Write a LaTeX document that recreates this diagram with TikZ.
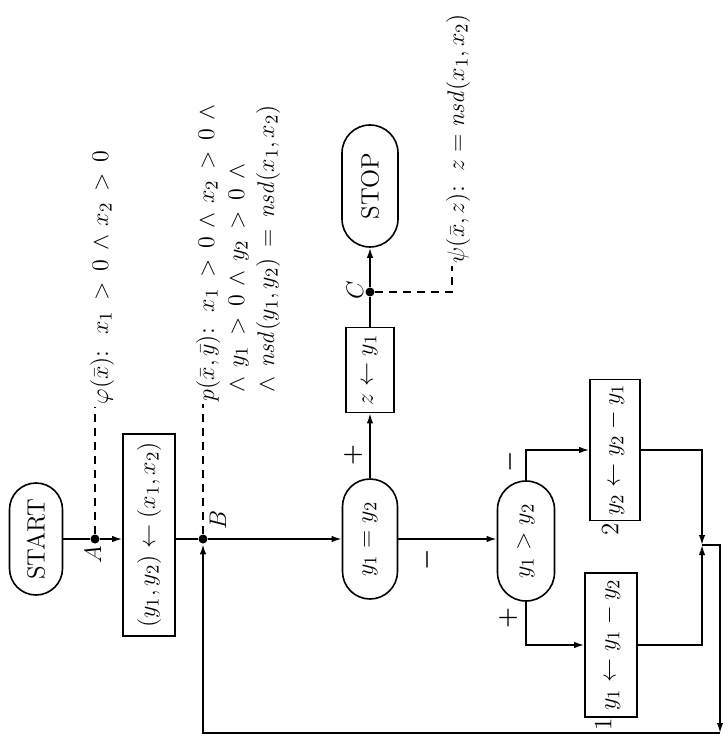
\documentclass[tikz,border=0pt]{standalone}
\usepackage{amsmath,amssymb}
\usepackage{tikz}
\usetikzlibrary{arrows.meta,shapes.misc}

\begin{document}
\begin{tikzpicture}[x=0.5pt, y=-0.5pt, line width=0.8pt,
  every node/.style={font=\fontsize{12.5}{15}\selectfont},
  term/.style={draw, rounded rectangle, rotate=90, inner sep=0pt},
  box/.style={draw, rectangle, rotate=90, inner sep=0pt},
  dot/.style={circle, fill, inner sep=0pt, minimum size=4.5pt},
  arr/.style={-{Latex[length=5pt,width=3.2pt]}},
  note/.style={line width=0.7pt, dash pattern=on 4pt off 3pt},
  lab/.style={rotate=90, inner sep=0pt},
  cond/.style={lab, anchor=base west},
  wide/.style={cond, execute at begin node={\thickmuskip=8mu plus 5mu\medmuskip=6.5mu plus 2mu minus 4mu}}]
\useasboundingbox (0,0) rectangle (723,742);
\node[term, minimum width=56pt, minimum height=26.5pt] (start) at (36,539) {START};
\node[box, minimum width=101pt, minimum height=26pt] (init) at (149,535) {$(y_1, y_2) \leftarrow (x_1, x_2)$};
\node[term, minimum width=60pt, minimum height=27.5pt] (eq) at (370,539) {$y_1 = y_2$};
\node[box, minimum width=42.5pt, minimum height=24pt] (zbox) at (370,370) {$z \leftarrow y_1$};
\node[term, minimum width=61pt, minimum height=28pt] (stop) at (370,186) {STOP};
\node[term, minimum width=60pt, minimum height=28.5pt] (gt) at (526,541) {$y_1 > y_2$};
\node[box, minimum width=70.5pt, minimum height=25pt] (sub2) at (615,450) {$y_2 \leftarrow y_2 - y_1$};
\node[box, minimum width=72pt, minimum height=26pt] (sub1) at (611,645) {$y_1 \leftarrow y_1 - y_2$};
\node[dot] (A) at (95,539) {};
\node[dot] (B) at (203,539) {};
\node[dot] (C) at (370,292) {};
\node[lab] (labA) at (93,555) {$A$};
\node[lab] (labB) at (218,520) {$B$};
\node[lab] (labC) at (355,290) {$C$};
\draw (start.south) -- (A);
\draw[arr] (A) -- (A -| init.north);
\draw (init.south |- B) -- (B);
\draw[arr] (B) -- (B -| eq.north);
\draw[arr] (eq.east) -- (zbox.west);
\draw (zbox.east) -- (C);
\draw[arr] (C) -- (stop.west);
\draw[arr] (eq.south) -- (eq.south -| gt.north);
\draw[arr] (gt.east) -- (gt.east |- sub2.north) -- (sub2.north);
\draw[arr] (gt.west) -- (gt.west |- sub1.north) -- (sub1.north);
\coordinate (merge) at (702,545);
\coordinate (rtop) at (720,545);
\coordinate (rbot) at (720,733);
\draw[arr] (sub2.south) -| (merge);
\draw[arr] (sub1.south) -| (merge);
\draw[arr] (merge) -- (rtop) -- (rbot);
\draw[arr] (rbot) -- (B |- rbot) -- (B);
\node[lab] (plus1) at (353,455) {$\boldsymbol{+}$};
\node[lab] (minus1) at (427,560) {$\boldsymbol{-}$};
\node[lab] (minus2) at (510,462) {$\boldsymbol{-}$};
\node[lab] (plus2) at (508,618) {$\boldsymbol{+}$};
\node[lab] (num2) at (610,529) {2};
\node[lab] (num1) at (603,724) {1};
\coordinate (phi) at (95,407);
\draw[note] (A) -- (phi);
\node[wide] (phitxt) at (108,405) {$\varphi(\bar{x})$:\hspace{8pt}$x_1 > 0 \wedge x_2 > 0$};
\coordinate (pp) at (203,404);
\draw[note] (B) -- (pp);
\node[wide] (ptxt1) at (214,402) {$p(\bar{x}, \bar{y})$:\hspace{8pt}$x_1 > 0 \wedge x_2 > 0 \wedge{}$};
\node[wide] (ptxt2) at (244,402) {${}\wedge y_1 > 0 \wedge y_2 > 0 \wedge{}$};
\node[wide] (ptxt3) at (274,402) {${}\wedge \mathit{nsd}(y_1, y_2) = \mathit{nsd}(x_1, x_2)$};
\coordinate (psi1) at (452,292);
\coordinate (psi2) at (452,266);
\draw[note] (C) -- (psi1) -- (psi2);
\node[cond] (psitxt) at (464,264) {$\psi(\bar{x}, z)$:\hspace{7.5pt}$z = \mathit{nsd}(x_1, x_2)$};
\end{tikzpicture}
\end{document}
